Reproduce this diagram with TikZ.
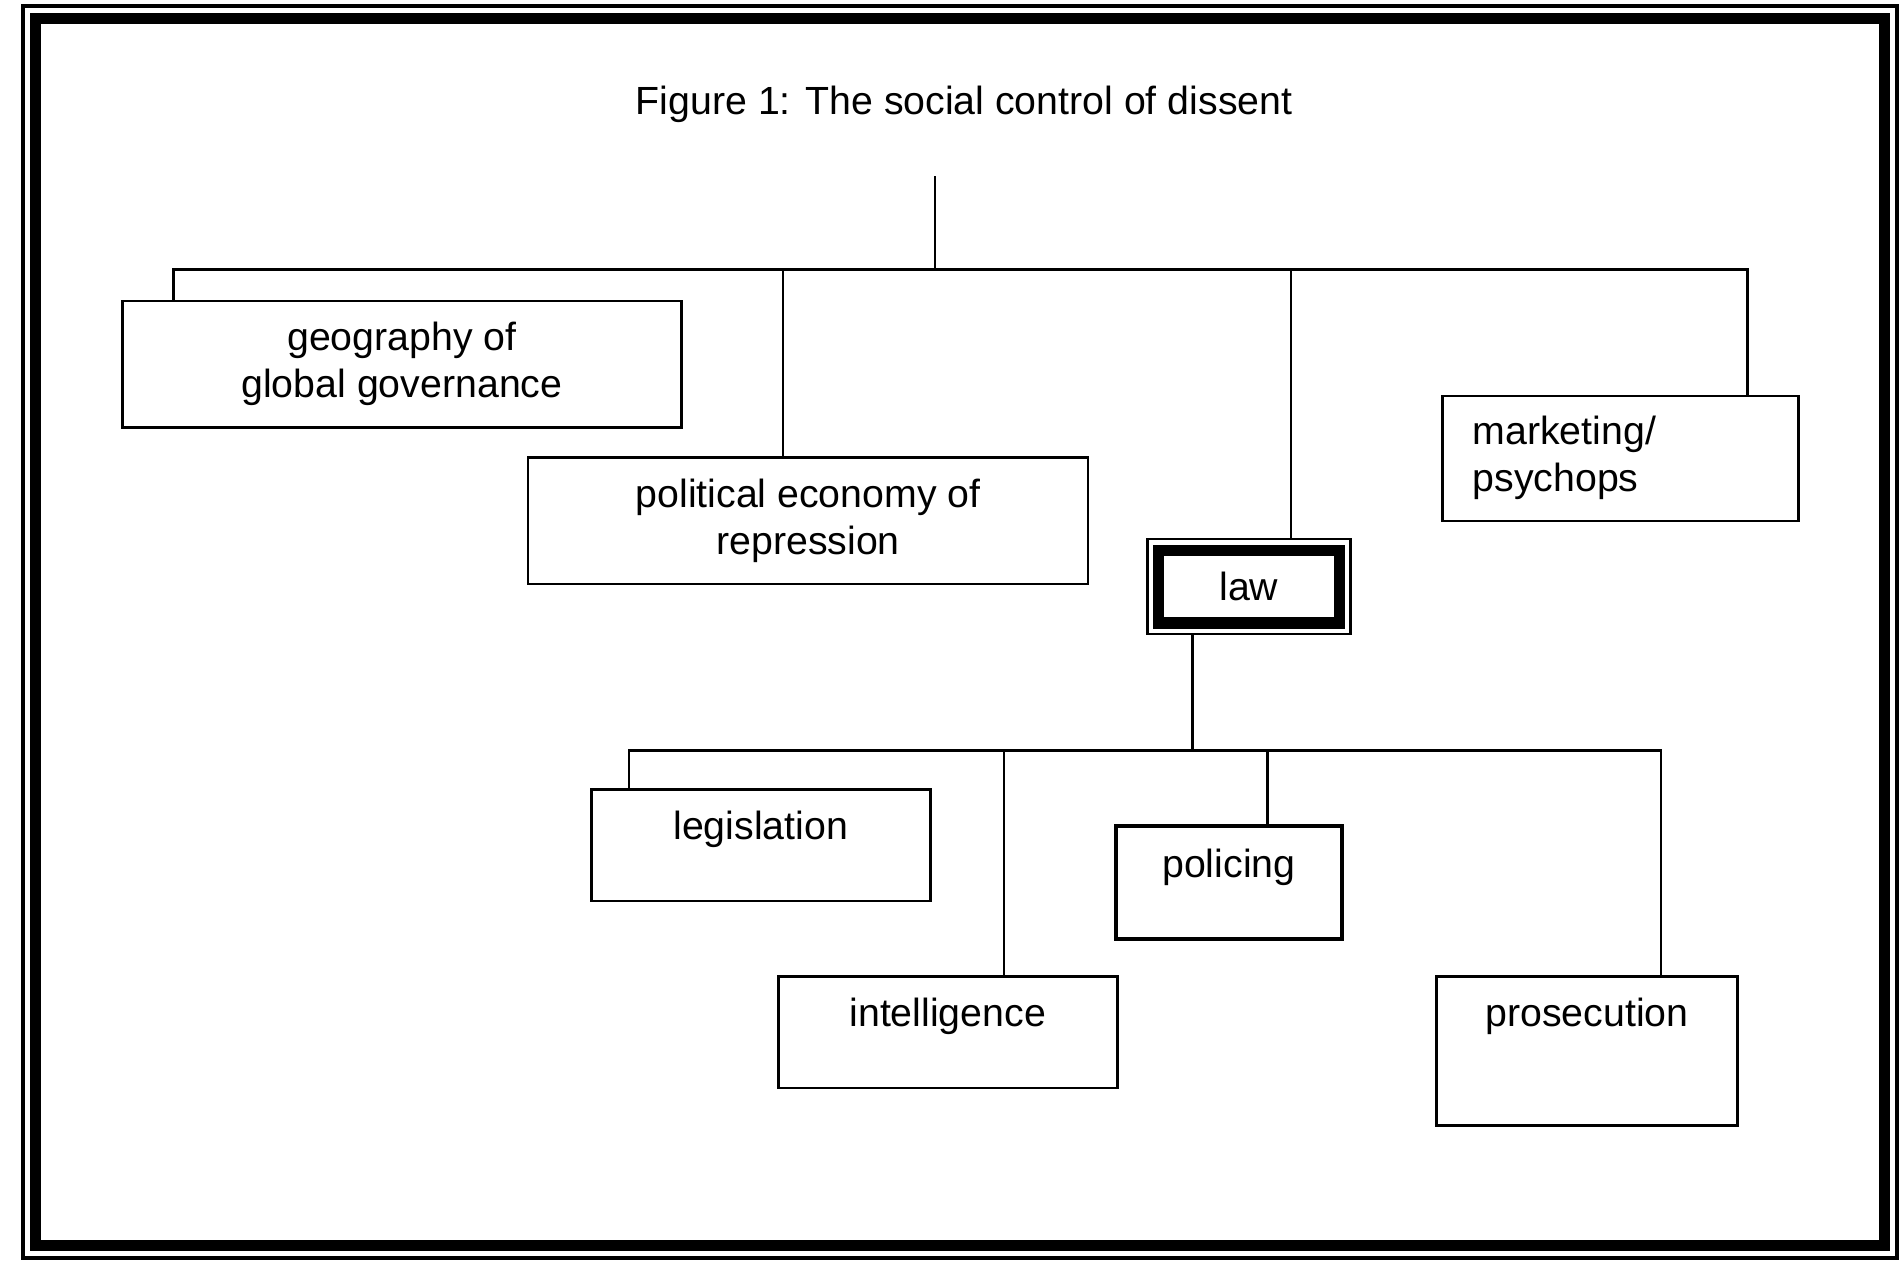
\documentclass[tikz,border=0pt]{standalone}
\usepackage{fontspec}
\setmainfont{Liberation Sans}
\begin{document}
\begin{tikzpicture}[x=0.01cm,y=-0.01cm,
  box/.style={draw,line width=0.6pt,inner sep=0pt},
  lbl/.style={font=\fontsize{9.2}{11}\selectfont,align=center,inner sep=0pt},
  ln/.style={line width=0.6pt}]
\useasboundingbox (0,0) rectangle (1568,1057);
\draw[line width=0.9pt] (19,5) rectangle (1562,1036);
\draw[line width=2.6pt] (29.5,15.5) rectangle (1552,1026);
\node[lbl] (title) at (794,86) {Figure 1: The social control of dissent};
% level 1 boxes
\node[box,minimum width=4.6cm,minimum height=1.04cm] (geo) at (331,300) {};
\node[lbl] (geot) at (331,300) {geography of\\global governance};
\node[box,minimum width=4.61cm,minimum height=1.04cm] (pol) at (665.5,429) {};
\node[lbl] (polt) at (665.5,429) {political economy of\\repression};
\node[box,minimum width=1.67cm,minimum height=0.78cm] (law) at (1028.5,483) {};
\node[draw,line width=2.6pt,minimum width=1.49cm,minimum height=0.6cm,inner sep=0pt] (lawin) at (1028.5,483) {};
\node[lbl] (lawt) at (1028.5,483) {law};
\node[box,minimum width=2.93cm,minimum height=1.03cm] (mkt) at (1334.5,377.5) {};
\node[lbl,align=left,anchor=west] (mktt) at (1212,377) {marketing/\\psychops};
% level 2 boxes
\node[box,minimum width=2.79cm,minimum height=0.92cm] (leg) at (626.5,696) {};
\node[lbl] (legt) at (626.5,683) {legislation};
\node[box,line width=1pt,minimum width=1.86cm,minimum height=0.93cm] (poli) at (1012,726.5) {};
\node[lbl] (polit) at (1012,714) {policing};
\node[box,minimum width=2.79cm,minimum height=0.92cm] (int) at (780.5,850) {};
\node[lbl] (intt) at (780.5,837) {intelligence};
\node[box,minimum width=2.48cm,minimum height=1.23cm] (pros) at (1307,865.5) {};
\node[lbl] (prost) at (1307,837) {prosecution};
% connectors level 1
\coordinate (top) at (770,145);
\coordinate (bus) at (770,222);
\coordinate (busL) at (143,222);
\coordinate (busR) at (1439,222);
\draw[ln] (top) -- (bus);
\draw[ln] (geo.north -| busL) -- (busL) -- (busR) -- (mkt.north -| busR);
\draw[ln] (645,222) -- (pol.north -| 645,0);
\draw[ln] (1063,222) -- (law.north -| 1063,0);
% connectors level 2
\coordinate (lawb) at (982,522);
\coordinate (bus2) at (982,618);
\coordinate (bus2L) at (518,618);
\coordinate (bus2R) at (1368,618);
\draw[ln] (law.south -| lawb) -- (bus2);
\draw[ln] (leg.north -| bus2L) -- (bus2L) -- (bus2R) -- (pros.north -| bus2R);
\draw[ln] (827,618) -- (int.north -| 827,0);
\draw[ln] (1044,618) -- (poli.north -| 1044,0);
\end{tikzpicture}
\end{document}
